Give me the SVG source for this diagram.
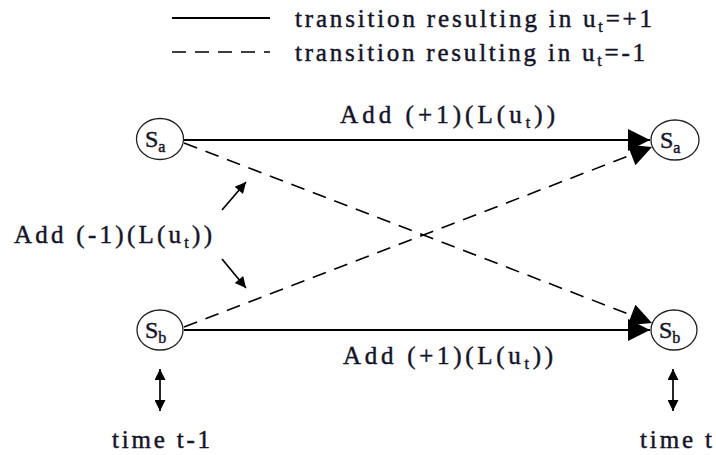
<svg xmlns="http://www.w3.org/2000/svg" width="716" height="455" viewBox="0 0 716 455">
<defs>
<style>
text{font-family:"Liberation Serif","Times New Roman",serif;font-size:25px;fill:#141428;stroke:#141428;stroke-width:0.45}
.sub{font-size:16px}
.node ellipse{fill:#fff;stroke:#222;stroke-width:1.3}
.node text{font-size:24px}
.solid{stroke:#000;stroke-width:2;fill:none}
.dash{stroke:#000;stroke-width:1.6;fill:none;stroke-dasharray:14 9}
.thin{stroke:#000;stroke-width:1.7;fill:none}
</style>
<marker id="bigd" viewBox="0 0 10 10" refX="10" refY="5" markerWidth="30" markerHeight="22" markerUnits="userSpaceOnUse" orient="auto"><path d="M0,0 L10,5 L0,10 z" fill="#000"/></marker>
<marker id="sm" viewBox="0 0 10 10" refX="10" refY="5" markerWidth="13" markerHeight="11" markerUnits="userSpaceOnUse" orient="auto-start-reverse"><path d="M0,0 L10,5 L0,10 z" fill="#000"/></marker>
</defs>
<g id="legend">
<line x1="172" y1="18" x2="270" y2="18" class="solid"/>
<text x="295" y="27" textLength="357">transition resulting in u<tspan class="sub" dy="5">t</tspan><tspan dy="-5">=+1</tspan></text>
<line x1="172" y1="52" x2="270" y2="52" class="dash" stroke-dasharray="14 10"/>
<text x="295" y="61" textLength="350">transition resulting in u<tspan class="sub" dy="5">t</tspan><tspan dy="-5">=-1</tspan></text>
</g>
<g id="connectors">
<line x1="184" y1="140" x2="650" y2="140" class="solid" marker-end="url(#bigd)"/>
<line x1="184" y1="330" x2="650" y2="330" class="solid" marker-end="url(#bigd)"/>
<line x1="184" y1="143" x2="652" y2="323" class="dash" marker-end="url(#bigd)"/>
<line x1="184" y1="327" x2="652" y2="147" class="dash" marker-end="url(#bigd)"/>
<line x1="222" y1="210" x2="246" y2="182" class="thin" marker-end="url(#sm)"/>
<line x1="222" y1="259" x2="246" y2="288" class="thin" marker-end="url(#sm)"/>
<line x1="160" y1="369" x2="160" y2="411" class="thin" marker-start="url(#sm)" marker-end="url(#sm)"/>
<line x1="673" y1="369" x2="673" y2="411" class="thin" marker-start="url(#sm)" marker-end="url(#sm)"/>
</g>
<g id="Sa_left" class="node"><ellipse cx="160" cy="139" rx="23.5" ry="20.5"/><text x="145" y="147">S<tspan class="sub" dy="5">a</tspan></text></g>
<g id="Sb_left" class="node"><ellipse cx="160" cy="330" rx="23" ry="20"/><text x="145" y="338">S<tspan class="sub" dy="5">b</tspan></text></g>
<g id="Sa_right" class="node"><ellipse cx="675" cy="140" rx="24" ry="20"/><text x="660" y="148">S<tspan class="sub" dy="5">a</tspan></text></g>
<g id="Sb_right" class="node"><ellipse cx="674" cy="330" rx="23" ry="20"/><text x="659" y="338">S<tspan class="sub" dy="5">b</tspan></text></g>
<g id="labels">
<text x="340" y="123" textLength="215">Add (+1)(L(u<tspan class="sub" dy="5">t</tspan><tspan dy="-5">))</tspan></text>
<text x="343" y="364" textLength="210">Add (+1)(L(u<tspan class="sub" dy="5">t</tspan><tspan dy="-5">))</tspan></text>
<text x="14" y="243" textLength="198">Add (-1)(L(u<tspan class="sub" dy="5">t</tspan><tspan dy="-5">))</tspan></text>
<text x="112" y="448" textLength="98">time t-1</text>
<text x="640" y="448" textLength="72">time t</text>
</g>
</svg>
